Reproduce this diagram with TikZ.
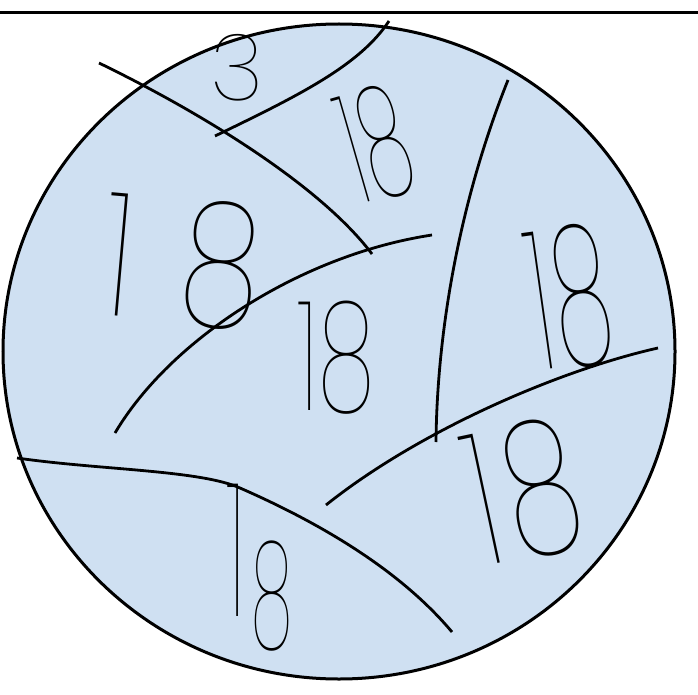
\documentclass[tikz,border=0pt]{standalone}
\usepackage{fontspec}
\IfFontExistsTF{Poppins Thin}{\newfontfamily\hand{Poppins Thin}}{\newfontfamily\hand{Lato Hairline}[FakeBold=1]}
\definecolor{fillblue}{HTML}{CFE0F2}
\tikzset{
  stroke/.style={line width=2.8pt, black},
  digits/.style={inner sep=0pt, font=\hand},
}
\newcommand{\fsz}[1]{\fontsize{#1}{#1}\selectfont}
\begin{document}
\begin{tikzpicture}[x=1pt, y=-1pt]
\useasboundingbox (0,0) rectangle (698,695);
\coordinate (tl) at (0,12.7);
\coordinate (tr) at (698,12.7);
\draw[line width=3pt] (tl) -- (tr);
\draw[line width=3pt, fill=fillblue] (339,351.5) ellipse [x radius=336pt, y radius=327.5pt];
% dividing curves
\draw[stroke] (99,63) .. controls (200,112) and (320,185) .. (372,254);
\draw[stroke] (215,136) .. controls (300,95) and (360,65) .. (389,21);
\draw[stroke] (115,433) .. controls (170,340) and (300,255) .. (432,235);
\draw[stroke] (508,80) .. controls (460,200) and (437,330) .. (436,442);
\draw[stroke] (326,505) .. controls (420,430) and (560,370) .. (658,348);
\draw[stroke] (17,458) .. controls (100,470) and (200,470) .. (240,488)
                      .. controls (320,523) and (400,570) .. (452,632);
% numbers
\node[digits] (n3) at (237,68) {\fsz{93}3};
\node[digits, rotate=16, xscale=0.5] (n18a) at (376,144) {\fsz{155}18};
\node[digits, rotate=-5, xscale=0.75] (n18b) at (183,262) {\fsz{174}1\hspace{64pt}8};
\node[digits, xscale=0.6] (n18c) at (336,358) {\fsz{154}18};
\node[digits, rotate=8, xscale=0.48] (n18d) at (570,298) {\fsz{196}1\hspace{6pt}8};
\node[digits, rotate=12, xscale=0.65] (n18e) at (524,492) {\fsz{187}1\hspace{14pt}8};
\node[digits, xscale=0.45] (n18f) at (260,568) {\fsz{188}1\hspace{13pt}{\fsz{150}\raisebox{-31pt}{8}}};
\end{tikzpicture}
\end{document}
